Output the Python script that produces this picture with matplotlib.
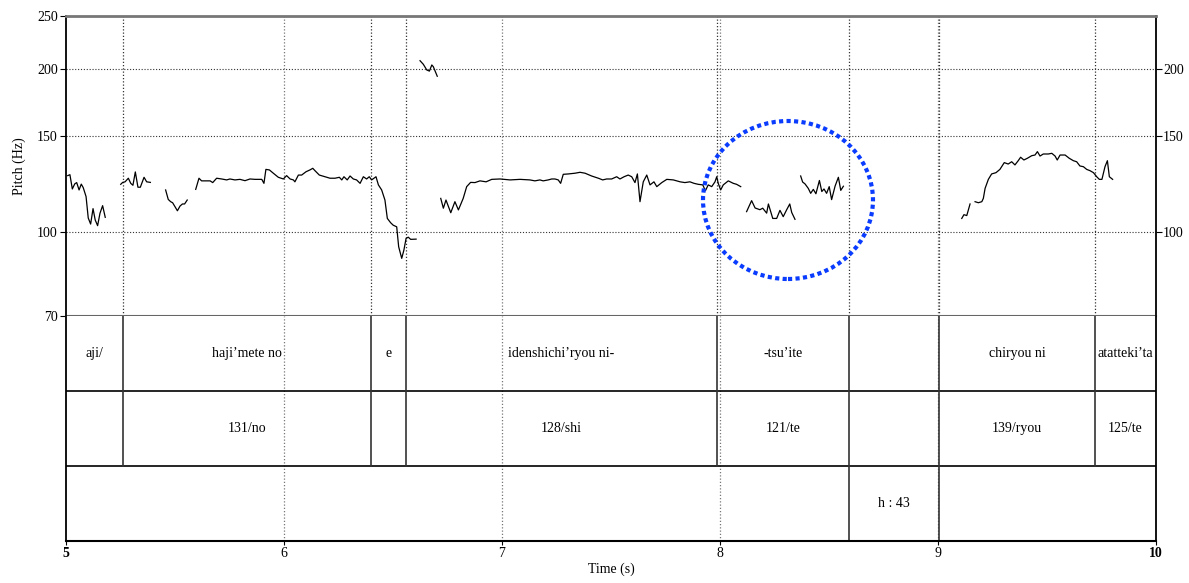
import matplotlib
matplotlib.use("Agg")
from matplotlib import pyplot as plt
from matplotlib.patches import Ellipse

plt.rcParams["font.family"] = ["Liberation Serif", "DejaVu Serif"]
plt.rcParams["font.size"] = 10

# pitch contour pieces (time in s, pitch in Hz)
seg1_t = [5.008, 5.018, 5.029, 5.040, 5.049, 5.060, 5.070, 5.079, 5.092, 5.102, 5.113, 5.124, 5.134, 5.145, 5.156, 5.168, 5.180]
seg1_f = [127.0, 127.5, 120.0, 122.6, 123.3, 119.5, 122.5, 120.7, 116.2, 106.1, 103.4, 110.4, 105.2, 102.7, 108.3, 111.8, 106.4]

seg2_t = [5.251, 5.260, 5.271, 5.286, 5.297, 5.307, 5.318, 5.330, 5.341, 5.358, 5.370, 5.387]
seg2_f = [122.4, 123.4, 123.7, 125.6, 122.9, 121.9, 129.0, 120.9, 120.9, 126.1, 123.7, 123.4]

seg3_t = [5.457, 5.469, 5.480, 5.489, 5.500, 5.511, 5.523, 5.534, 5.544, 5.556]
seg3_f = [119.5, 114.8, 113.7, 113.2, 111.3, 109.4, 111.6, 112.6, 112.6, 114.5]

seg4_t = [5.595, 5.610, 5.622, 5.638, 5.661, 5.673, 5.691, 5.714, 5.737, 5.752, 5.775, 5.798, 5.821,
          5.844, 5.867, 5.898, 5.908, 5.917, 5.933, 5.951, 5.974, 5.997, 6.012, 6.028, 6.043, 6.050,
          6.066, 6.081, 6.101, 6.119, 6.132, 6.142, 6.162, 6.188, 6.211, 6.234, 6.254, 6.265, 6.275,
          6.290, 6.303, 6.318, 6.333, 6.349, 6.364, 6.379, 6.391, 6.402, 6.422, 6.433, 6.448, 6.463,
          6.474, 6.489, 6.501, 6.517, 6.526, 6.540, 6.550, 6.560, 6.570, 6.581, 6.606]
seg4_f = [119.8, 125.6, 124.2, 124.2, 124.2, 123.3, 125.6, 125.2, 124.7, 125.2, 124.7, 125.0, 124.3,
          125.2, 125.0, 125.0, 122.9, 130.4, 130.1, 128.3, 126.1, 125.2, 127.0, 125.2, 124.7, 123.7,
          127.3, 127.3, 129.1, 130.1, 131.0, 129.7, 127.3, 126.4, 125.6, 125.6, 126.1, 124.7, 126.4,
          124.7, 126.8, 125.2, 124.7, 122.9, 126.4, 125.2, 126.4, 124.7, 126.4, 122.1, 119.5, 114.5,
          105.9, 104.0, 102.9, 102.2, 93.9, 89.4, 92.6, 97.3, 97.8, 96.9, 97.0]

seg5_t = [6.624, 6.639, 6.655, 6.667, 6.678, 6.685, 6.703]
seg5_f = [206.8, 203.7, 198.8, 197.9, 203.1, 201.6, 193.6]

seg6_t = [6.719, 6.731, 6.743, 6.765, 6.784, 6.800, 6.822, 6.838, 6.856, 6.876, 6.899, 6.927, 6.953,
          6.991, 7.037, 7.083, 7.128, 7.151, 7.174, 7.189, 7.212, 7.228, 7.243, 7.258, 7.269, 7.281,
          7.304, 7.335, 7.358, 7.381, 7.411, 7.442, 7.462, 7.480, 7.503, 7.526, 7.541, 7.560, 7.579,
          7.595, 7.610, 7.621, 7.633, 7.648, 7.664, 7.679, 7.697, 7.710, 7.733, 7.756, 7.786, 7.817,
          7.839, 7.862, 7.881, 7.900, 7.921, 7.933, 7.946, 7.962, 7.977, 7.985, 7.992, 8.003, 8.015,
          8.038, 8.061, 8.076, 8.095]
seg6_f = [115.3, 110.6, 114.5, 108.5, 113.7, 109.8, 115.3, 121.2, 123.4, 123.3, 124.2, 123.7, 125.0,
          125.2, 124.7, 125.0, 124.7, 124.2, 124.7, 124.2, 124.7, 125.2, 125.2, 124.7, 122.9, 127.7,
          127.9, 128.3, 128.8, 128.3, 126.8, 125.6, 124.7, 125.2, 125.2, 126.4, 125.2, 126.4, 127.3,
          126.4, 123.3, 127.9, 113.7, 123.7, 127.3, 122.1, 123.7, 121.2, 123.3, 125.0, 124.7, 123.7,
          123.3, 123.7, 122.9, 122.4, 122.1, 119.1, 122.1, 121.2, 123.7, 126.4, 122.9, 119.5, 122.1,
          124.2, 122.9, 122.4, 121.2]

seg7_t = [8.122, 8.145, 8.161, 8.183, 8.196, 8.214, 8.222, 8.242, 8.260, 8.275, 8.290, 8.306, 8.320, 8.329, 8.344]
seg7_f = [109.0, 114.2, 110.7, 109.9, 110.6, 108.3, 112.6, 105.9, 105.9, 109.6, 106.7, 109.9, 112.6, 108.6, 105.5]

seg8_t = [8.370, 8.379, 8.390, 8.405, 8.416, 8.428, 8.440, 8.456, 8.467, 8.477, 8.489, 8.501, 8.512, 8.528, 8.543, 8.554, 8.566]
seg8_f = [126.8, 123.6, 122.6, 120.3, 117.8, 119.8, 117.6, 124.4, 118.7, 120.0, 117.8, 121.2, 114.7, 121.5, 126.1, 119.3, 121.4]

seg9_t = [9.109, 9.119, 9.132, 9.147]
seg9_f = [105.9, 107.6, 107.2, 112.6]

seg10_t = [9.170, 9.185, 9.201, 9.208, 9.216, 9.231, 9.246, 9.266, 9.284, 9.304, 9.322, 9.338, 9.353,
           9.368, 9.379, 9.394, 9.410, 9.430, 9.445, 9.456, 9.468, 9.483, 9.506, 9.522, 9.537, 9.547,
           9.560, 9.583, 9.602, 9.621, 9.636, 9.651, 9.667, 9.682, 9.697, 9.713, 9.728, 9.740, 9.752,
           9.766, 9.777, 9.786, 9.801]
seg10_f = [113.7, 113.2, 113.7, 115.3, 120.3, 125.0, 127.9, 128.6, 130.4, 134.2, 133.4, 134.7, 132.9,
           135.3, 137.3, 135.7, 136.7, 138.2, 138.6, 140.6, 138.0, 139.2, 139.2, 139.6, 138.0, 135.7,
           138.6, 138.6, 136.7, 135.3, 134.7, 132.3, 131.9, 130.4, 129.7, 128.6, 126.4, 125.0, 125.0,
           131.9, 135.3, 126.4, 125.0]

segments = [(seg1_t, seg1_f), (seg2_t, seg2_f), (seg3_t, seg3_f), (seg4_t, seg4_f), (seg5_t, seg5_f),
            (seg6_t, seg6_f), (seg7_t, seg7_f), (seg8_t, seg8_f), (seg9_t, seg9_f), (seg10_t, seg10_f)]

# text grid tiers
word_bounds = [5.0, 5.26, 6.40, 6.56, 7.985, 8.59, 9.005, 9.72, 10.0]
word_labels = ["aji/", "haji\u2019mete no", "e", "idenshichi\u2019ryou ni-", "-tsu\u2019ite", "", "chiryou ni", "atatteki\u2019ta"]
tone_bounds = [5.0, 5.26, 6.40, 6.56, 7.985, 8.59, 9.005, 9.72, 10.0]
tone_labels = ["", "131/no", "", "128/shi", "121/te", "", "139/ryou", "125/te"]
note_bounds = [5.0, 8.59, 9.005, 10.0]
note_labels = ["", "h : 43", ""]

pitch_ticks = [70, 100, 150, 200, 250]
pitch_ticks_right = [100, 150, 200]
time_ticks = [5, 6, 7, 8, 9, 10]

W, H = 1189, 583
fig = plt.figure(figsize=(W / 100, H / 100), dpi=100)
L, R = 66, 1156
ax = fig.add_axes([L / W, 1 - 316 / H, (R - L) / W, 300 / H])
tx = fig.add_axes([L / W, 1 - 541 / H, (R - L) / W, 225 / H])

dot = (0, (1, 1.6))

# pitch panel
ax.set_yscale("log")
ax.set_xlim(5, 10)
ax.set_ylim(70, 250)
for f in pitch_ticks_right:
    ax.axhline(f, color="#333333", lw=0.8, ls=dot, zorder=1)
for t in time_ticks[1:-1]:
    ax.axvline(t, color="#777777", lw=0.9, ls=dot, zorder=1)
    tx.axvline(t, color="#777777", lw=0.9, ls=dot, zorder=1)
for t in word_bounds[1:-1]:
    ax.axvline(t, color="#333333", lw=0.9, ls=dot, zorder=1)
for st, sf in segments:
    ax.plot(st, sf, color="black", lw=0.9, zorder=3)

ax.set_yticks(pitch_ticks)
ax.set_yticklabels([str(v) for v in pitch_ticks])
ax.minorticks_off()
ax.set_xticks([])
ax.tick_params(axis="y", direction="out", length=4, width=0.8, pad=2, labelsize=10)
ax.set_ylabel("Pitch (Hz)", fontsize=10, labelpad=8)
ax.spines["top"].set_color("#777777")
ax.spines["top"].set_linewidth(2)
ax.spines["bottom"].set_color("#666666")
ax.spines["bottom"].set_linewidth(1.5)
ax.spines["left"].set_linewidth(1.3)
ax.spines["right"].set_linewidth(1.3)

ax2 = ax.twinx()
ax2.set_yscale("log")
ax2.set_ylim(70, 250)
ax2.set_yticks(pitch_ticks_right)
ax2.set_yticklabels([str(v) for v in pitch_ticks_right])
ax2.minorticks_off()
ax2.tick_params(axis="y", direction="out", length=4, width=0.8, pad=1, labelsize=10)
for s in ax2.spines.values():
    s.set_visible(False)

# tiers
tx.set_xlim(5, 10)
tx.set_ylim(0, 3)
tx.set_yticks([])
tx.axhline(2, color="black", lw=1.2)
tx.axhline(1, color="black", lw=1.2)


def draw_tier(bounds, labels, y0):
    for b in bounds[1:-1]:
        tx.plot([b, b], [y0, y0 + 1], color="#333333", lw=1.2, zorder=2)
    for a, b, lab in zip(bounds[:-1], bounds[1:], labels):
        if lab:
            tx.text((a + b) / 2, y0 + 0.5, lab, ha="center", va="center", fontsize=10)


draw_tier(word_bounds, word_labels, 2)
draw_tier(tone_bounds, tone_labels, 1)
draw_tier(note_bounds, note_labels, 0)

tx.set_xticks(time_ticks)
tx.set_xticklabels([str(v) for v in time_ticks])
for lab in tx.get_xticklabels():
    if lab.get_text() in ("5", "10"):
        lab.set_fontweight("bold")
tx.tick_params(axis="x", direction="out", length=3, width=0.8, pad=1, labelsize=10)
tx.set_xlabel("Time (s)", fontsize=10, labelpad=2)
tx.spines["top"].set_visible(False)
tx.spines["bottom"].set_linewidth(1.5)
tx.spines["left"].set_linewidth(1.3)
tx.spines["right"].set_linewidth(1.3)

# highlighted region
circle = Ellipse((788 / W, 1 - 200 / H), 170 / W, 158 / H, transform=fig.transFigure,
                 fill=False, edgecolor="#0a3cff", lw=3, ls=(0, (1, 0.8)), zorder=10)
fig.patches.append(circle)

fig.savefig("out.png", dpi=100)
